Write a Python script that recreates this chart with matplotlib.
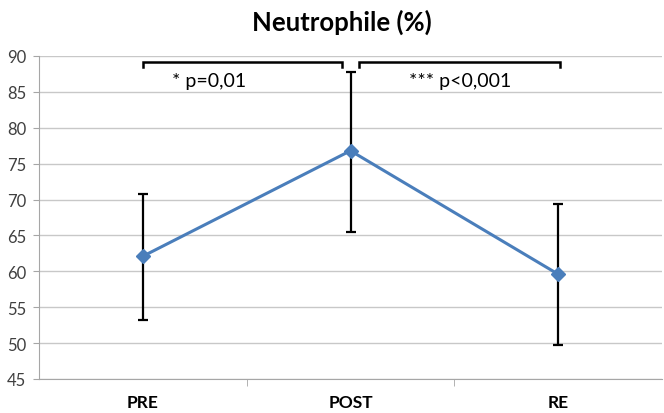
import matplotlib
matplotlib.use("Agg")
import matplotlib.pyplot as plt

categories = ["PRE", "POST", "RE"]
means = [62.1, 76.8, 59.6]
upper = [70.8, 87.8, 69.4]
lower = [53.2, 65.5, 49.7]
yticks = [45, 50, 55, 60, 65, 70, 75, 80, 85, 90]
sig_labels = ["* p=0,01", "*** p<0,001"]

plt.rcParams['font.family'] = ['Lato', 'DejaVu Sans']

fig = plt.figure(figsize=(6.64, 4.14), dpi=100)
ax = fig.add_axes([39/664, 34/414, (662-39)/664, (380-57)/414])

x = list(range(len(categories)))
yerr = [[m - l for m, l in zip(means, lower)], [u - m for m, u in zip(means, upper)]]
ax.errorbar(x, means, yerr=yerr, fmt='none', ecolor='black', elinewidth=1.6,
            capsize=3.5, capthick=1.6, zorder=3)
ax.plot(x, means, color='#4a7ebb', linewidth=2.2, marker='D', markersize=7,
        markerfacecolor='#4a7ebb', markeredgecolor='#4a7ebb', zorder=4)

ax.set_xlim(-0.5, 2.5)
ax.set_ylim(45, 90)
ax.set_yticks(yticks)
ax.set_yticklabels([str(t) for t in yticks], fontsize=12, color='#404040')
ax.set_xticks(x)
ax.set_xticklabels(categories, fontsize=12.5, fontweight='bold', color='black')
ax.tick_params(axis='x', length=0, pad=11)
ax.tick_params(axis='y', length=4, color='#a6a6a6', pad=5)
# category boundary tick marks
ax.set_xticks([0.5, 1.5], minor=True)
ax.tick_params(axis='x', which='minor', length=5, color='#a6a6a6', direction='out')

ax.grid(axis='y', color='#c8c8c8', linewidth=1)
ax.set_axisbelow(True)
for s in ['top', 'right']:
    ax.spines[s].set_visible(False)
ax.spines['left'].set_color('#a6a6a6')
ax.spines['bottom'].set_color('#a6a6a6')

# significance brackets
brackets = [(0.0, 0.96), (1.04, 2.01)]
by_top, by_end = 89.1, 88.4
for (x0, x1), lab in zip(brackets, sig_labels):
    ax.plot([x0, x0, x1, x1], [by_end, by_top, by_top, by_end], color='black',
            linewidth=1.8, clip_on=False, zorder=5, solid_joinstyle='miter')
ax.text(0.32, 86.6, sig_labels[0], ha='center', va='center', fontsize=14, color='black')
ax.text(1.53, 86.6, sig_labels[1], ha='center', va='center', fontsize=14, color='black')

fig.text(342/664, 1 - 22/414, "Neutrophile (%)", ha='center', va='center',
         fontsize=18.5, fontweight='bold')

fig.savefig("out.png", dpi=100)
